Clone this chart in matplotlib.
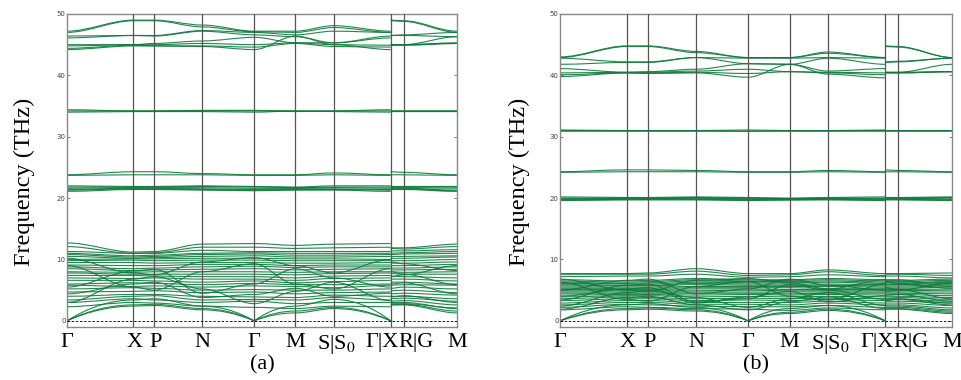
import matplotlib
matplotlib.use("Agg")
import matplotlib.pyplot as plt
from matplotlib.path import Path
from matplotlib.patches import PathPatch

plt.rcParams["mathtext.fontset"] = "stix"

# high-symmetry points along the path (fraction of path length)
kpath_main = [0.0, 0.170, 0.224, 0.347, 0.480, 0.586, 0.684, 0.830]   # G X P N G M S|S0 G
kpath_tail = [0.830, 0.863, 1.0]                                      # X R|G M
vlines = [0.170, 0.224, 0.347, 0.480, 0.586, 0.684, 0.830, 0.863]
klabels = ["Γ", "X", "P", "N", "Γ", "M", "S|S$_0$", "Γ|X", "R|G", "M"]
klabel_pos = [0.0, 0.170, 0.224, 0.347, 0.480, 0.586, 0.684, 0.830, 0.863, 1.0]
klabel_shift = [0, 1, 1, 0, 0, 0, 2, -6, 9, 0]   # points

# band values at: G X P N G M S G | X R M
upper_a = [
    [47.2, 49.0, 49.0, 48.2, 47.2, 47.2, 48.1, 47.2, 49.0, 48.9, 47.2],
    [47.0, 48.9, 48.9, 47.9, 47.1, 47.0, 47.8, 47.0, 48.9, 48.8, 47.0],
    [46.4, 46.5, 46.5, 47.3, 47.0, 46.6, 47.2, 47.0, 46.5, 46.6, 47.0],
    [46.1, 46.5, 46.4, 47.2, 46.6, 46.3, 45.3, 46.4, 46.5, 46.5, 46.3],
    [45.0, 45.0, 45.2, 45.6, 46.2, 45.3, 45.3, 46.1, 45.0, 45.0, 46.3],
    [44.8, 45.0, 45.0, 45.2, 45.0, 45.3, 45.0, 44.9, 45.0, 45.0, 45.3],
    [44.4, 44.9, 44.8, 44.8, 44.6, 45.2, 44.7, 44.6, 45.0, 45.0, 45.2],
    [44.2, 44.8, 44.8, 44.7, 44.2, 46.4, 45.0, 44.2, 44.9, 44.9, 45.2],
]
middle_a = [
    [34.4, 34.2, 34.2, 34.3, 34.3, 34.2, 34.2, 34.4, 34.2, 34.2, 34.2],
    [34.2, 34.2, 34.2, 34.2, 34.2, 34.1, 34.2, 34.2, 34.2, 34.2, 34.2],
    [34.0, 34.1, 34.1, 34.1, 34.0, 34.2, 34.1, 34.0, 34.1, 34.1, 34.1],
    [23.8, 24.3, 24.3, 24.0, 23.8, 23.8, 24.1, 23.8, 24.3, 24.2, 23.8],
    [23.7, 23.8, 23.8, 23.8, 23.7, 23.7, 23.8, 23.7, 23.8, 23.8, 23.7],
    [22.0, 21.9, 21.9, 22.0, 21.9, 21.8, 22.0, 22.0, 21.9, 21.9, 21.9],
    [21.8, 21.8, 21.8, 21.9, 21.8, 21.7, 21.8, 21.8, 21.8, 21.8, 21.8],
    [21.6, 21.7, 21.7, 21.7, 21.6, 21.6, 21.7, 21.6, 21.7, 21.7, 21.6],
    [21.4, 21.6, 21.6, 21.5, 21.4, 21.5, 21.5, 21.4, 21.6, 21.6, 21.3],
    [21.3, 21.5, 21.5, 21.4, 21.3, 21.4, 21.4, 21.3, 21.5, 21.5, 21.2],
    [21.1, 21.4, 21.4, 21.3, 21.2, 21.3, 21.3, 21.1, 21.4, 21.4, 21.1],
]
lower_a = [
    [0.0, 2.4, 2.5, 1.8, 0.0, 1.3, 2.0, 0.0, 2.6, 2.6, 1.3],
    [0.0, 2.6, 2.7, 2.0, 0.0, 1.6, 2.2, 0.0, 2.6, 2.7, 1.6],
    [0.0, 3.4, 3.6, 2.4, 0.0, 2.4, 3.5, 0.0, 3.0, 3.0, 2.0],
    [2.3, 3.0, 2.9, 2.4, 2.2, 2.0, 2.4, 2.3, 2.8, 2.8, 2.1],
    [3.0, 3.6, 3.4, 3.0, 3.2, 2.8, 3.0, 3.0, 3.2, 3.3, 2.6],
    [3.4, 4.0, 4.1, 3.4, 3.5, 3.4, 3.8, 3.4, 3.6, 3.7, 3.2],
    [4.0, 4.3, 4.3, 4.0, 3.9, 3.8, 4.2, 4.0, 4.0, 4.0, 3.6],
    [4.7, 4.8, 4.9, 4.6, 4.7, 4.4, 4.6, 4.7, 4.4, 4.5, 4.2],
    [5.2, 5.4, 5.3, 5.0, 5.1, 5.0, 5.0, 5.2, 4.9, 5.0, 4.6],
    [5.8, 5.6, 5.7, 5.5, 5.7, 5.6, 5.4, 5.8, 5.3, 5.5, 5.2],
    [6.0, 6.2, 6.1, 5.9, 6.1, 5.9, 5.9, 6.0, 5.8, 5.9, 5.8],
    [6.6, 6.6, 6.5, 6.3, 6.5, 6.2, 6.4, 6.6, 6.3, 6.3, 6.0],
    [7.0, 6.9, 7.0, 6.8, 6.8, 6.6, 6.9, 7.0, 6.8, 6.8, 6.5],
    [7.4, 7.4, 7.3, 7.2, 7.2, 7.0, 7.3, 7.4, 7.3, 7.2, 7.0],
    [7.8, 7.6, 7.6, 7.6, 7.6, 7.5, 7.7, 7.8, 7.7, 7.6, 7.6],
    [8.0, 7.9, 8.0, 8.0, 8.0, 7.9, 8.0, 8.0, 8.0, 7.9, 8.0],
    [8.5, 8.2, 8.3, 8.4, 8.5, 8.3, 8.4, 8.5, 8.3, 8.3, 8.4],
    [8.8, 8.5, 8.6, 8.8, 8.9, 8.7, 8.8, 8.8, 8.6, 8.6, 8.8],
    [9.1, 9.0, 9.0, 9.2, 9.2, 9.0, 9.1, 9.1, 9.0, 9.0, 9.2],
    [9.5, 9.5, 9.4, 9.5, 9.5, 9.4, 9.4, 9.5, 9.4, 9.4, 9.6],
    [9.8, 9.9, 9.8, 9.9, 9.9, 9.8, 9.8, 9.8, 9.8, 9.8, 10.0],
    [10.0, 10.1, 10.1, 10.2, 10.2, 10.1, 10.1, 10.0, 10.2, 10.2, 10.4],
    [10.5, 10.2, 10.3, 10.5, 10.6, 10.4, 10.4, 10.5, 10.5, 10.5, 10.6],
    [10.8, 10.4, 10.5, 10.8, 10.9, 10.7, 10.7, 10.8, 10.8, 10.9, 11.0],
    [11.0, 10.6, 10.7, 11.0, 11.1, 11.0, 11.0, 11.0, 11.0, 11.1, 11.3],
    [11.3, 11.0, 11.0, 11.5, 11.3, 11.3, 11.3, 11.3, 11.4, 11.4, 11.6],
    [12.1, 11.0, 11.1, 12.0, 12.0, 11.8, 11.9, 12.0, 11.8, 11.7, 12.1],
    [12.7, 11.2, 11.3, 12.5, 12.6, 12.3, 12.5, 12.6, 11.9, 11.9, 12.5],
    [9.0, 5.5, 5.0, 8.0, 9.3, 6.0, 5.2, 8.5, 8.0, 7.6, 5.9],
    [5.5, 8.1, 8.4, 4.5, 6.0, 8.5, 7.0, 5.5, 7.2, 7.5, 9.0],
    [3.0, 6.8, 7.2, 5.2, 2.8, 4.8, 6.3, 3.3, 6.0, 6.2, 4.4],
    [10.2, 7.8, 7.5, 9.6, 10.3, 9.0, 7.8, 10.0, 9.6, 9.3, 8.2],
    [4.4, 6.0, 6.3, 3.8, 4.3, 5.3, 4.0, 4.5, 3.9, 4.1, 3.0],
]

upper_b = [
    [43.0, 44.8, 44.8, 43.9, 42.9, 42.9, 43.8, 42.9, 44.8, 44.7, 42.9],
    [42.9, 44.7, 44.7, 43.7, 42.9, 42.9, 43.6, 42.9, 44.7, 44.6, 42.9],
    [42.8, 42.2, 42.2, 42.9, 42.8, 42.8, 42.9, 42.8, 42.2, 42.3, 42.8],
    [41.8, 42.1, 42.1, 42.9, 41.9, 41.8, 42.8, 41.8, 42.1, 42.2, 42.8],
    [41.1, 40.5, 40.6, 41.0, 41.9, 41.8, 40.7, 41.1, 40.5, 40.5, 41.8],
    [40.4, 40.5, 40.5, 40.7, 41.0, 40.6, 40.5, 40.4, 40.5, 40.5, 40.6],
    [40.1, 40.4, 40.4, 40.5, 40.3, 40.6, 40.4, 40.1, 40.4, 40.4, 40.6],
    [39.8, 40.4, 40.3, 40.4, 39.7, 41.8, 40.2, 39.6, 40.4, 40.4, 40.6],
]
middle_b = [
    [31.1, 31.0, 31.0, 31.0, 31.1, 31.0, 31.0, 31.1, 31.0, 31.0, 31.0],
    [31.0, 31.0, 31.0, 31.0, 30.9, 31.0, 31.0, 31.0, 31.0, 31.0, 31.0],
    [30.9, 30.9, 30.9, 30.9, 30.9, 30.9, 30.9, 30.9, 30.9, 30.9, 30.9],
    [24.3, 24.6, 24.6, 24.5, 24.3, 24.3, 24.5, 24.3, 24.6, 24.5, 24.3],
    [24.2, 24.3, 24.3, 24.3, 24.2, 24.2, 24.3, 24.2, 24.3, 24.3, 24.2],
    [20.2, 20.1, 20.1, 20.2, 20.1, 20.0, 20.1, 20.2, 20.1, 20.1, 20.2],
    [20.0, 20.0, 20.0, 20.1, 20.0, 19.9, 20.0, 20.0, 20.0, 20.0, 20.1],
    [19.9, 19.9, 19.9, 20.0, 19.9, 19.9, 19.9, 19.9, 19.9, 19.9, 20.0],
    [19.8, 19.9, 19.9, 19.9, 19.8, 19.8, 19.9, 19.8, 19.9, 19.9, 19.8],
    [19.7, 19.8, 19.8, 19.8, 19.7, 19.7, 19.8, 19.7, 19.8, 19.8, 19.7],
    [19.6, 19.7, 19.7, 19.7, 19.6, 19.7, 19.7, 19.6, 19.7, 19.7, 19.6],
]
lower_b = [
    [0.0, 1.8, 1.9, 1.6, 0.0, 1.2, 1.7, 0.0, 1.9, 1.9, 1.2],
    [0.0, 2.0, 2.1, 1.8, 0.0, 1.4, 1.9, 0.0, 2.0, 2.0, 1.4],
    [0.0, 2.6, 2.8, 2.2, 0.0, 2.0, 2.5, 0.0, 2.4, 2.4, 1.8],
    [1.8, 2.3, 2.2, 2.0, 1.9, 1.7, 2.1, 1.8, 2.2, 2.2, 1.6],
    [2.2, 2.7, 2.6, 2.4, 2.3, 2.3, 2.5, 2.2, 2.6, 2.6, 2.1],
    [2.6, 3.0, 3.0, 2.7, 2.7, 2.6, 2.9, 2.6, 2.9, 2.9, 2.5],
    [2.9, 3.3, 3.3, 3.0, 3.0, 3.0, 3.2, 2.9, 3.2, 3.2, 2.9],
    [3.3, 3.6, 3.6, 3.3, 3.4, 3.3, 3.5, 3.3, 3.5, 3.5, 3.2],
    [3.6, 3.9, 3.8, 3.6, 3.7, 3.6, 3.7, 3.6, 3.7, 3.8, 3.5],
    [3.9, 4.1, 4.1, 3.9, 4.0, 3.9, 4.0, 3.9, 4.0, 4.0, 3.8],
    [4.2, 4.3, 4.3, 4.2, 4.3, 4.2, 4.3, 4.2, 4.2, 4.3, 4.1],
    [4.5, 4.5, 4.5, 4.5, 4.5, 4.4, 4.5, 4.5, 4.5, 4.5, 4.4],
    [4.7, 4.7, 4.7, 4.7, 4.7, 4.7, 4.7, 4.7, 4.7, 4.7, 4.7],
    [4.9, 4.9, 4.9, 4.9, 5.0, 4.9, 4.9, 4.9, 4.9, 4.9, 5.0],
    [5.1, 5.1, 5.1, 5.2, 5.2, 5.1, 5.1, 5.1, 5.1, 5.1, 5.2],
    [5.3, 5.3, 5.3, 5.4, 5.4, 5.4, 5.3, 5.3, 5.3, 5.3, 5.5],
    [5.5, 5.5, 5.5, 5.6, 5.6, 5.6, 5.6, 5.5, 5.5, 5.5, 5.7],
    [5.7, 5.7, 5.7, 5.9, 5.8, 5.8, 5.8, 5.7, 5.7, 5.7, 5.9],
    [5.9, 5.8, 5.8, 6.1, 6.0, 6.0, 6.0, 5.9, 5.9, 5.9, 6.1],
    [6.1, 6.0, 6.0, 6.3, 6.2, 6.2, 6.3, 6.1, 6.0, 6.0, 6.3],
    [6.3, 6.1, 6.2, 6.5, 6.4, 6.4, 6.5, 6.3, 6.2, 6.2, 6.4],
    [6.5, 6.3, 6.4, 6.7, 6.5, 6.6, 6.7, 6.5, 6.4, 6.4, 6.6],
    [6.7, 6.5, 6.6, 6.9, 6.7, 6.7, 6.9, 6.7, 6.6, 6.6, 6.8],
    [7.2, 7.3, 7.3, 7.6, 7.1, 7.2, 7.5, 7.2, 7.3, 7.3, 7.0],
    [7.6, 7.6, 7.6, 8.1, 7.4, 7.5, 8.0, 7.4, 7.6, 7.6, 7.4],
    [7.7, 7.7, 7.8, 8.5, 7.7, 7.7, 8.3, 7.7, 7.7, 7.7, 7.8],
    [6.3, 3.5, 3.2, 5.6, 6.4, 4.0, 3.4, 6.0, 5.4, 5.1, 3.6],
    [3.4, 5.8, 6.0, 3.1, 3.6, 5.9, 5.0, 3.5, 4.8, 5.0, 6.2],
    [2.4, 4.6, 4.9, 3.8, 2.2, 3.6, 4.6, 2.5, 4.2, 4.3, 3.2],
    [6.8, 5.0, 4.8, 6.6, 6.9, 6.2, 5.2, 6.7, 6.3, 6.1, 5.3],
    [4.0, 5.2, 5.4, 2.9, 3.9, 4.8, 3.1, 4.1, 3.3, 3.5, 2.6],
    [5.0, 6.6, 6.8, 4.4, 5.2, 6.8, 5.8, 5.0, 6.7, 6.7, 5.6],
    [1.9, 3.8, 4.0, 2.6, 1.8, 3.1, 3.9, 2.0, 3.6, 3.6, 2.9],
]

band_color = "#0b7a3a"
serif = "Liberation Serif"


def smooth_band(ax, xs, ys):
    # cubic bezier between nodes: flat at high-symmetry points,
    # but leaving a zero (acoustic branch at Gamma) along a straight slope
    verts = [(xs[0], ys[0])]
    codes = [Path.MOVETO]
    for i in range(len(xs) - 1):
        x0, x1, y0, y1 = xs[i], xs[i + 1], ys[i], ys[i + 1]
        dx = x1 - x0
        c0 = y0 + (y1 - y0) * 2 / 3 if y0 == 0 else y0
        c1 = y1 + (y0 - y1) * 2 / 3 if y1 == 0 else y1
        verts += [(x0 + dx / 3, c0), (x1 - dx / 3, c1), (x1, y1)]
        codes += [Path.CURVE4] * 3
    ax.add_patch(PathPatch(Path(verts, codes), fill=False, edgecolor=band_color,
                           lw=0.8, alpha=0.9))


def draw_panel(ax, groups, tag, ylab_x):
    for grp in groups:
        for band in grp:
            smooth_band(ax, kpath_main, band[:8])
            smooth_band(ax, kpath_tail, band[8:])
    for x in vlines:
        ax.axvline(x, color="#555555", lw=0.9, zorder=3)
    ax.axhline(0, color="black", lw=0.6, ls=(0, (3, 2)), zorder=3)
    ax.set_xlim(0, 1)
    ax.set_ylim(-1, 50)
    ax.set_xticks([])
    ax.set_yticks([0, 10, 20, 30, 40, 50])
    ax.tick_params(axis="y", direction="in", length=2.5, width=0.6, labelsize=5,
                   labelcolor="#444444", color="#666666", pad=1, right=True)
    for s in ax.spines.values():
        s.set_color("#888888")
        s.set_linewidth(1.0)
    for lab, x, dx in zip(klabels, klabel_pos, klabel_shift):
        ax.annotate(lab, xy=(x, 0), xycoords=ax.get_xaxis_transform(),
                    xytext=(dx, -4), textcoords="offset points",
                    ha="center", va="top", fontsize=16, family=serif)
    ax.set_ylabel("Frequency (THz)", fontsize=17.5, family=serif)
    ax.yaxis.set_label_coords(ylab_x, 0.465)
    ax.text(0.5, -0.09, tag, transform=ax.transAxes, ha="center", va="top",
            fontsize=16, family=serif)


fig = plt.figure(figsize=(9.62, 3.8), dpi=100)
ax_a = fig.add_axes([0.0696, 0.1395, 0.4054, 0.8237])
ax_b = fig.add_axes([0.5821, 0.1395, 0.4075, 0.8237])

draw_panel(ax_a, [upper_a, middle_a, lower_a], "(a)", -0.082)
draw_panel(ax_b, [upper_b, middle_b, lower_b], "(b)", -0.077)

fig.savefig("out.png", dpi=100)
